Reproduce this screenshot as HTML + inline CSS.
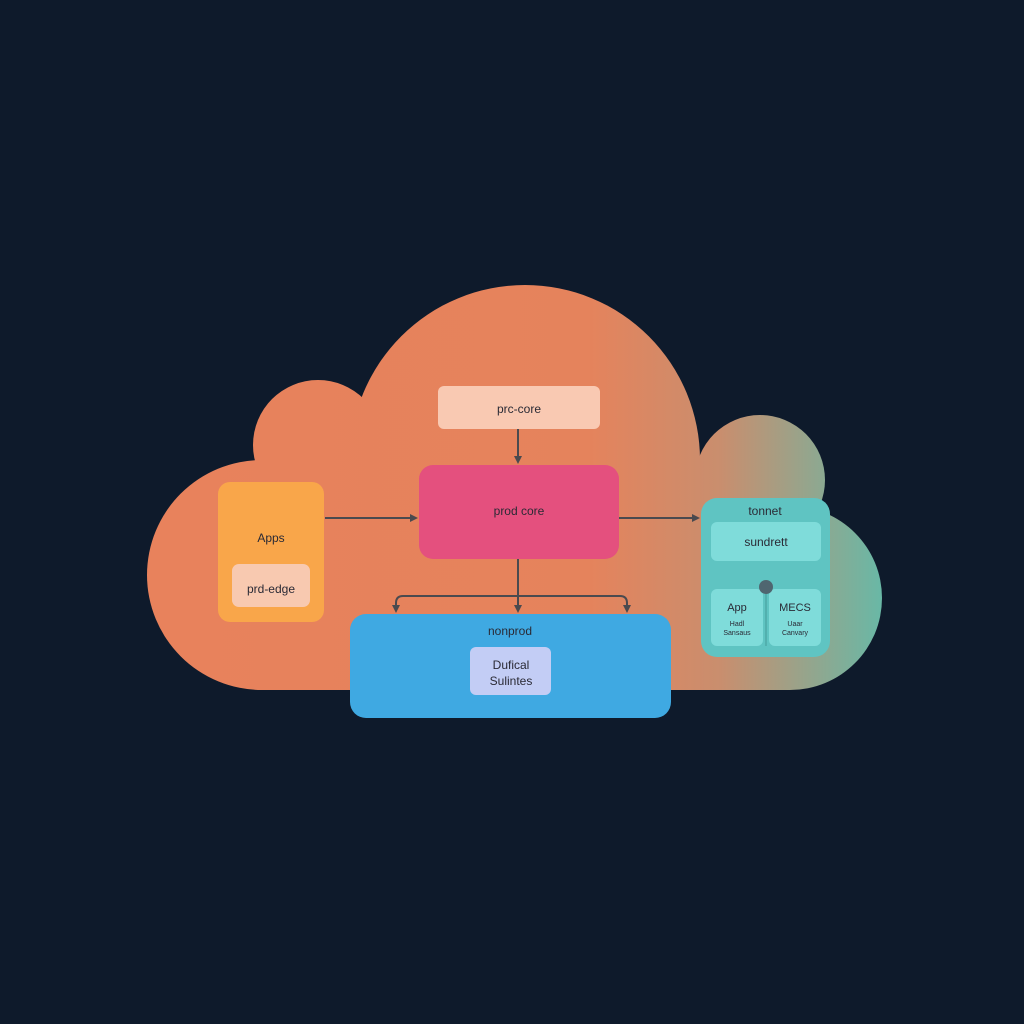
<!DOCTYPE html>
<html><head><meta charset="utf-8"><style>
html,body{margin:0;padding:0;background:#0e1a2b;width:1024px;height:1024px;overflow:hidden}
svg text{font-family:"Liberation Sans",sans-serif;fill:#2a2a35}
</style></head><body>
<svg width="1024" height="1024" viewBox="0 0 1024 1024" xmlns="http://www.w3.org/2000/svg">
<defs>
<linearGradient id="cg" x1="148" y1="0" x2="882" y2="0" gradientUnits="userSpaceOnUse">
<stop offset="0" stop-color="#e8825c"/>
<stop offset="0.6" stop-color="#e5835c"/>
<stop offset="0.78" stop-color="#c98e6e"/>
<stop offset="1" stop-color="#69b8a6"/>
</linearGradient>
<marker id="ah" markerWidth="8" markerHeight="8" refX="6" refY="4" orient="auto" markerUnits="userSpaceOnUse"><path d="M0,0 L8,4 L0,8 Z" fill="#4a4a4f"/></marker>
</defs>
<g fill="url(#cg)">
<circle cx="525" cy="460" r="175"/>
<circle cx="318" cy="445" r="65"/>
<circle cx="262" cy="575" r="115"/>
<circle cx="760" cy="480" r="65"/>
<circle cx="790" cy="598" r="92"/>
<rect x="262" y="470" width="528" height="220"/>
</g>
<rect x="218" y="482" width="106" height="140" rx="12" fill="#f9a64a"/>
<text x="271" y="542" font-size="12" text-anchor="middle">Apps</text>
<rect x="232" y="564" width="78" height="43" rx="7" fill="#f8c9b0"/>
<text x="271" y="593" font-size="12" text-anchor="middle">prd-edge</text>
<rect x="438" y="386" width="162" height="43" rx="6" fill="#f9c9b2"/>
<text x="519" y="413" font-size="12" text-anchor="middle">prc-core</text>
<rect x="419" y="465" width="200" height="94" rx="14" fill="#e4507e"/>
<text x="519" y="515" font-size="12" text-anchor="middle">prod core</text>
<g stroke="#4a4a4f" stroke-width="2" fill="none">
<line x1="518" y1="429" x2="518" y2="462" marker-end="url(#ah)"/>
<line x1="325" y1="518" x2="416" y2="518" marker-end="url(#ah)"/>
<line x1="619" y1="518" x2="698" y2="518" marker-end="url(#ah)"/>
<line x1="518" y1="559" x2="518" y2="611" marker-end="url(#ah)"/>
<path d="M396,611 L396,603 Q396,596 403,596 L620,596 Q627,596 627,603 L627,611" marker-end="url(#ah)"/>
<path d="M396,603 L396,611" marker-end="url(#ah)"/>
</g>
<rect x="350" y="614" width="321" height="104" rx="16" fill="#3fa9e2"/>
<text x="510" y="635" font-size="12" text-anchor="middle">nonprod</text>
<rect x="470" y="647" width="81" height="48" rx="6" fill="#c3cdf5"/>
<text x="511" y="669" font-size="12" text-anchor="middle">Dufical</text>
<text x="511" y="685" font-size="12" text-anchor="middle">Sulintes</text>
<rect x="701" y="498" width="129" height="159" rx="16" fill="#5fc4c2"/>
<text x="765" y="515" font-size="12" text-anchor="middle">tonnet</text>
<rect x="711" y="522" width="110" height="39" rx="6" fill="#7fdcda"/>
<text x="766" y="546" font-size="12" text-anchor="middle">sundrett</text>
<rect x="711" y="589" width="52" height="57" rx="6" fill="#7fdcda"/>
<rect x="769" y="589" width="52" height="57" rx="6" fill="#7fdcda"/>
<line x1="766" y1="590" x2="766" y2="646" stroke="#4fa9a8" stroke-width="1.5"/>
<circle cx="766" cy="587" r="7" fill="#4f6670"/>
<text x="737" y="611" font-size="11" text-anchor="middle">App</text>
<text x="795" y="611" font-size="11" text-anchor="middle">MECS</text>
<text x="737" y="626" font-size="7" text-anchor="middle">Hadl</text>
<text x="737" y="635" font-size="7" text-anchor="middle">Sansaus</text>
<text x="795" y="626" font-size="7" text-anchor="middle">Uaar</text>
<text x="795" y="635" font-size="7" text-anchor="middle">Canvary</text>
</svg>
</body></html>
